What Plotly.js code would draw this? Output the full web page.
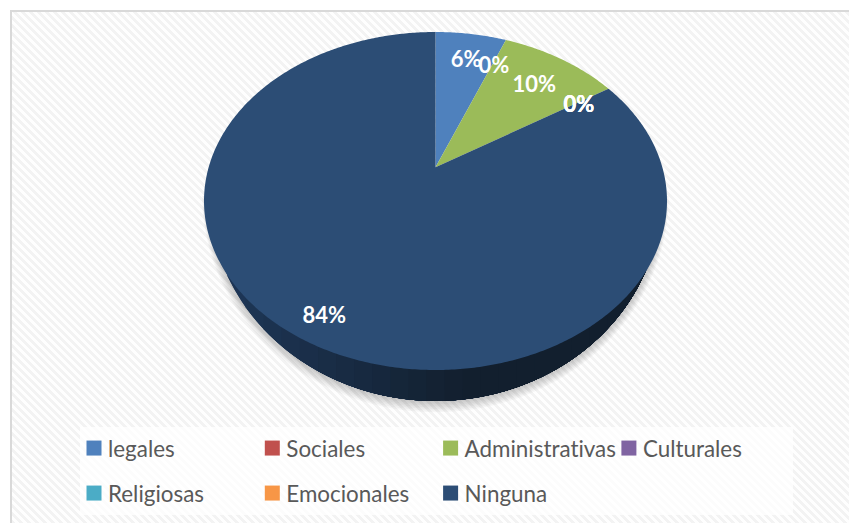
<!DOCTYPE html>
<html>
<head>
<meta charset="utf-8">
<script src="https://cdn.plot.ly/plotly-3.0.1.min.js"></script>
<style>
  html, body { margin:0; padding:0; width:849px; height:523px; overflow:hidden; background:#fff; }
  #frame { position:absolute; left:10px; top:10px; width:900px; height:600px; border:2px solid #d9d9d9;
           background:repeating-linear-gradient(45deg,#f3f3f3 0,#f3f3f3 2.9px,#fefefe 2.9px,#fefefe 5.66px); }
  #chart { position:absolute; left:0; top:0; width:849px; height:523px; }
  #chart text { font-variant-ligatures:none; font-feature-settings:"liga" 0, "dlig" 0, "clig" 0; }
</style>
</head>
<body>
<div id="frame"></div>
<div id="chart"></div>
<script>
// ---- data ----
const categories = ['legales','Sociales','Administrativas','Culturales','Religiosas','Emocionales','Ninguna'];
const shares     = [6, 0, 10, 0, 0, 0, 84];
const colors     = ['#4f81bd','#c0504d','#9bbb59','#8064a2','#4bacc6','#f79646','#2c4d75'];
const legendRow  = ['legend','legend','legend','legend','legend2','legend2','legend2'];

// ---- look of the tilted disc (unit circle seen in perspective) ----
const W = 849, H = 523;
const cx = 435.5, cy = 201, rx = 231.5, ry = 169;
const tilt = 0.2;
const labelRadius = [0.79, 0.78, 0.75, 0.805, 0.805, 0.805, 0.873];
const labelNudge = {x: 1.5 / rx, y: -3.5 / ry};
const wallBottom = {cy: 0.03, rx: 0.976, ry: 1.213};

function project(theta, r) {
  const X = r * Math.sin(theta), Y = r * Math.cos(theta), d = 1 + tilt * Y;
  return [X * Math.sqrt(1 - tilt * tilt) / d, (Y + tilt) / d];
}
const total = shares.reduce((a, b) => a + b, 0);
const traces = [];

// soft shadow under the disc
for (let k = 7; k >= 1; k--) {
  const a = wallBottom.rx + k * 0.0045, b = wallBottom.ry + k * 0.0095;
  const xs = [], ys = [];
  for (let i = 0; i <= 80; i++) {
    const t = Math.PI * i / 80;
    xs.push(-a * Math.cos(t));
    ys.push(wallBottom.cy - b * Math.sin(t));
  }
  traces.push({x: xs, y: ys, type:'scatter', mode:'none', fill:'toself',
    fillcolor:'rgba(0,0,0,0.03)', showlegend:false, hoverinfo:'skip'});
}

// side wall of the disc, painted left to right so that it darkens
const wallStops = 26;
for (let s = 0; s < wallStops; s++) {
  const f = s / (wallStops - 1);
  const m = Math.min(1, f / 0.55);
  const col = 'rgb(' + Math.round(30 - 12 * m) + ',' + Math.round(55 - 24 * m) + ',' + Math.round(88 - 42 * m) + ')';
  const x0 = -wallBottom.rx + 2 * wallBottom.rx * f;
  const xs = [x0], ys = [wallBottom.cy];
  for (let i = 0; i <= 70; i++) {
    const xp = x0 + (wallBottom.rx - x0) * i / 70;
    xs.push(xp);
    ys.push(wallBottom.cy - wallBottom.ry * Math.sqrt(Math.max(0, 1 - (xp / wallBottom.rx) ** 2)));
  }
  xs.push(wallBottom.rx); ys.push(wallBottom.cy);
  traces.push({x: xs, y: ys, type:'scatter', mode:'none', fill:'toself',
    fillcolor: col, showlegend:false, hoverinfo:'skip'});
}

// slices
let acc = 0;
const labelX = [], labelY = [], labelText = [];
categories.forEach((name, i) => {
  const a0 = 2 * Math.PI * acc / total;
  const a1 = 2 * Math.PI * (acc + shares[i]) / total;
  const c = project(0, 0);
  const xs = [c[0]], ys = [c[1]];
  const n = Math.max(2, Math.ceil((a1 - a0) / 0.01));
  for (let k = 0; k <= n; k++) {
    const p = project(a0 + (a1 - a0) * k / n, 1);
    xs.push(p[0]); ys.push(p[1]);
  }
  xs.push(c[0]); ys.push(c[1]);
  traces.push({x: xs, y: ys, name, type:'scatter', mode:'none', fill:'toself',
    fillcolor: colors[i], showlegend:false, hoverinfo:'name'});
  const l = project((a0 + a1) / 2, labelRadius[i]);
  labelX.push(l[0] + labelNudge.x); labelY.push(l[1] + labelNudge.y);
  labelText.push(Math.round(shares[i] / total * 100) + '%');
  acc += shares[i];
});

// percentage labels
traces.push({x: labelX, y: labelY, text: labelText, type:'scatter', mode:'text',
  textposition:'middle center', showlegend:false, hoverinfo:'skip',
  textfont:{family:'Lato, sans-serif', size:22, color:'#ffffff', weight:700}});

// legend entries
categories.forEach((name, i) => {
  traces.push({x:[null], y:[null], name, type:'scatter', mode:'markers', legend: legendRow[i],
    marker:{symbol:'square', size:15, color: colors[i]}, showlegend:true});
});

const legendFont = {family:'Lato, sans-serif', size:22.4, color:'#595959'};
const layout = {
  width: W, height: H,
  margin: {l:0, r:0, t:0, b:0},
  paper_bgcolor:'rgba(0,0,0,0)', plot_bgcolor:'rgba(0,0,0,0)',
  xaxis: {visible:false, fixedrange:true, range:[(0 - cx) / rx, (W - cx) / rx]},
  yaxis: {visible:false, fixedrange:true, range:[(cy - H) / ry, cy / ry]},
  shapes: [{type:'rect', xref:'paper', yref:'paper', x0:80/W, x1:793/W, y0:1-515/H, y1:1-427/H,
    fillcolor:'rgba(255,255,255,0.72)', line:{width:0}, layer:'below'}],
  legend:  {x:68/W, y:1-427/H, xanchor:'left', yanchor:'top', orientation:'h', entrywidth:133.3, entrywidthmode:'pixels',
    font:legendFont, bgcolor:'rgba(0,0,0,0)', traceorder:'normal', itemclick:false, itemdoubleclick:false},
  legend2: {x:68/W, y:1-472/H, xanchor:'left', yanchor:'top', orientation:'h', entrywidth:133.3, entrywidthmode:'pixels',
    font:legendFont, bgcolor:'rgba(0,0,0,0)', traceorder:'normal', itemclick:false, itemdoubleclick:false},
  showlegend:true
};

Plotly.newPlot('chart', traces, layout, {displayModeBar:false, staticPlot:false}).then(gd => {
  gd.querySelectorAll('.legendsymbols').forEach(el => el.setAttribute('transform', 'translate(6,0)'));
});
</script>
</body>
</html>
